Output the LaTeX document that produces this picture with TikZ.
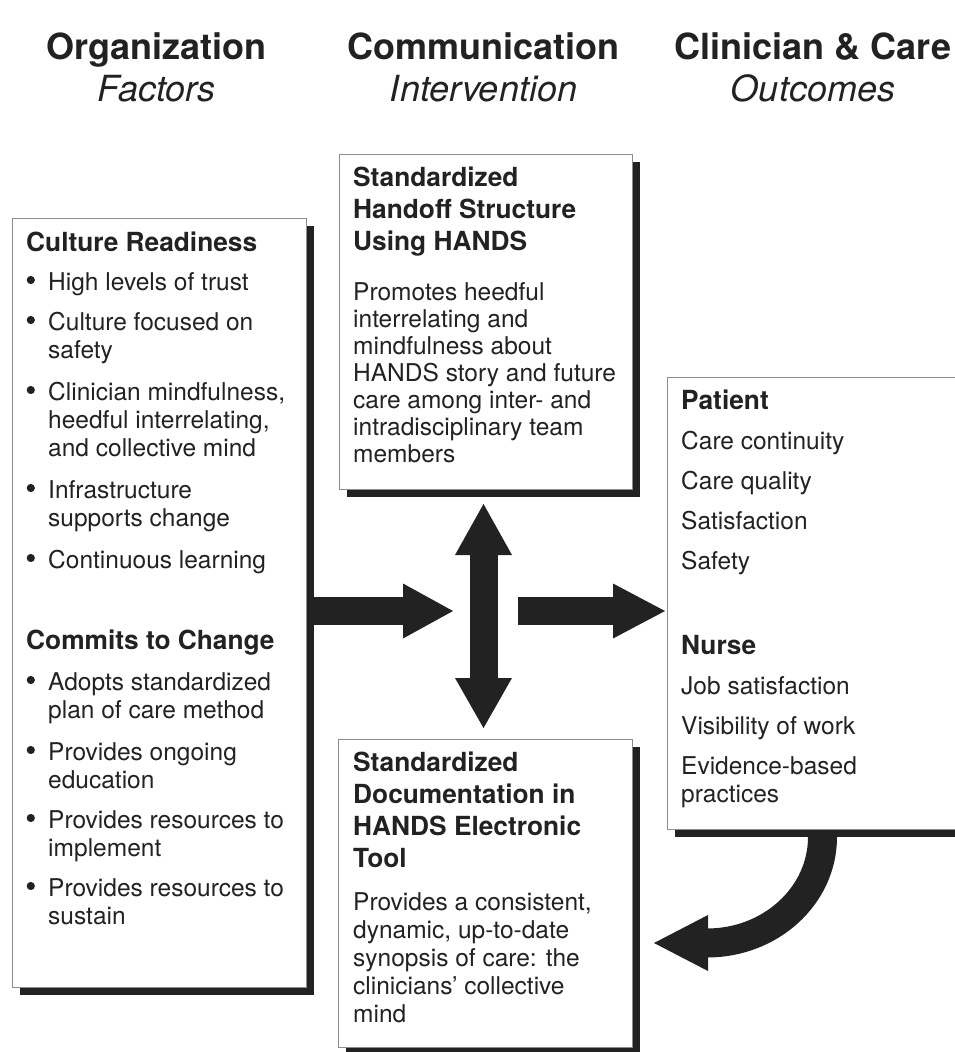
\documentclass[tikz,border=0pt]{standalone}
\usepackage{fontspec}
\setmainfont{TeX Gyre Heros}
\usetikzlibrary{calc,shadows}
\definecolor{ink}{HTML}{222222}
\definecolor{edgegray}{HTML}{8C8C8C}
\begin{document}
\begin{tikzpicture}[x=1pt,y=-1pt,
  box/.style={draw=edgegray, line width=1pt, fill=white, anchor=north west, inner sep=0pt,
    drop shadow={shadow xshift=7pt, shadow yshift=-7pt, fill=ink, opacity=1}},
  ln/.style={anchor=base west, inner sep=0pt, text=ink, font=\fontsize{24.5}{28}\selectfont},
  hd/.style={anchor=base west, inner sep=0pt, text=ink, font=\bfseries\fontsize{26.3}{32}\selectfont},
  ttl/.style={anchor=base, inner sep=0pt, text=ink, font=\bfseries\fontsize{36}{40}\selectfont},
  sub/.style={anchor=base, inner sep=0pt, text=ink, font=\itshape\fontsize{36}{40}\selectfont},
  shaft/.style={draw=ink, line width=28pt},
  head/.style={fill=ink}
]
\useasboundingbox (0,0) rectangle (955,1052);
\clip (0,0) rectangle (955,1052);
\fill[white] (0,0) rectangle (955,1052);

% titles
\node[ttl] (t1) at (156.6,59) {Organization};
\node[sub] (s1) at (156.6,101) {Factors};
\node[ttl] (t2) at (483.5,59) {Communication};
\node[sub] (s2) at (483.5,101) {Intervention};
\node[ttl] (t3) at (813,59) {Clinician \& Care};
\node[sub] (s3) at (813,101) {Outcomes};

% boxes
\node[box, minimum width=294pt, minimum height=769pt] (orgbox) at (12,218) {};
\node[box, minimum width=293pt, minimum height=335pt] (topbox) at (339,154) {};
\node[box, minimum width=294pt, minimum height=308pt] (docbox) at (338,739) {};
\node[box, minimum width=310pt, minimum height=452pt] (outbox) at (667,377) {};

% left box text
\node[hd] (cr) at (26,251) {Culture Readiness};
\node[ln] (cr1) at (48,290) {High levels of trust};
\node[ln] (cr2a) at (48,330) {Culture focused on};
\node[ln] (cr2b) at (48,358) {safety};
\node[ln] (cr3a) at (48,400) {Clinician mindfulness,};
\node[ln] (cr3b) at (48,428) {heedful interrelating,};
\node[ln] (cr3c) at (48,456) {and collective mind};
\node[ln] (cr4a) at (48,498) {Infrastructure};
\node[ln] (cr4b) at (48,526) {supports change};
\node[ln] (cr5) at (48,568) {Continuous learning};
\node[hd] (cc) at (26,649) {Commits to Change};
\node[ln] (cc1a) at (48,690) {Adopts standardized};
\node[ln] (cc1b) at (48,718) {plan of care method};
\node[ln] (cc2a) at (48,760) {Provides ongoing};
\node[ln] (cc2b) at (48,788) {education};
\node[ln] (cc3a) at (48,828) {Provides resources to};
\node[ln] (cc3b) at (48,856) {implement};
\node[ln] (cc4a) at (48,896) {Provides resources to};
\node[ln] (cc4b) at (48,924) {sustain};
\foreach \n in {cr1,cr2a,cr3a,cr4a,cr5,cc1a,cc2a,cc3a,cc4a}
  \fill[ink] ($(\n.base west)+(-17.2,-10)$) circle[radius=4.1pt];

% top box text
\node[hd] (h1) at (353,186) {Standardized};
\node[hd] (h2) at (353,218) {Handoff Structure};
\node[hd] (h3) at (353,250) {Using HANDS};
\node[ln] (p1) at (353,300) {Promotes heedful};
\node[ln] (p2) at (353,327) {interrelating and};
\node[ln] (p3) at (353,354) {mindfulness about};
\node[ln] (p4) at (353,381) {HANDS story and future};
\node[ln] (p5) at (353,408) {care among inter- and};
\node[ln] (p6) at (353,435) {intradisciplinary team};
\node[ln] (p7) at (353,462) {members};

% bottom box text
\node[hd] (d1) at (353,771) {Standardized};
\node[hd] (d2) at (353,803) {Documentation in};
\node[hd] (d3) at (353,835) {HANDS Electronic};
\node[hd] (d4) at (353,867) {Tool};
\node[ln] (q1) at (353,910) {Provides a consistent,};
\node[ln] (q2) at (353,938) {dynamic, up-to-date};
\node[ln] (q3) at (353,966) {synopsis of care: the};
\node[ln] (q4) at (353,994) {clinicians’ collective};
\node[ln] (q5) at (353,1022) {mind};

% right box text
\node[hd] (pt) at (681,409) {Patient};
\node[ln] (pt1) at (681,449) {Care continuity};
\node[ln] (pt2) at (681,489) {Care quality};
\node[ln] (pt3) at (681,529) {Satisfaction};
\node[ln] (pt4) at (681,569) {Safety};
\node[hd] (nu) at (681,654) {Nurse};
\node[ln] (nu1) at (681,694) {Job satisfaction};
\node[ln] (nu2) at (681,734) {Visibility of work};
\node[ln] (nu3) at (681,774) {Evidence-based};
\node[ln] (nu4) at (681,802) {practices};

% arrows
\coordinate (hub) at (483.5,611);
% left arrow
\coordinate (la0) at (orgbox.east |- hub);
\coordinate (la2) at ($(hub)+(-30.5,0)$);
\coordinate (la1) at ($(la2)+(-50,0)$);
\draw[shaft] (la0) -- ($(la1)+(1,0)$);
\fill[head] ($(la1)+(0,-27.5)$) -- (la2) -- ($(la1)+(0,27.5)$) -- cycle;
% right arrow
\coordinate (ra0) at ($(hub)+(34.5,0)$);
\coordinate (ra2) at ($(outbox.west |- hub)+(-2,0)$);
\coordinate (ra1) at ($(ra2)+(-52,0)$);
\draw[shaft] (ra0) -- ($(ra1)+(1,0)$);
\fill[head] ($(ra1)+(0,-27.5)$) -- (ra2) -- ($(ra1)+(0,27.5)$) -- cycle;
% vertical double arrow
\coordinate (vt) at ($(hub |- topbox.south)+(0,14)$);
\coordinate (vb) at ($(hub |- docbox.north)+(0,-11)$);
\coordinate (vt1) at ($(vt)+(0,51)$);
\coordinate (vb1) at ($(vb)+(0,-50)$);
\draw[shaft] ($(vt1)+(0,-1)$) -- ($(vb1)+(0,1)$);
\fill[head] ($(vt1)+(-28.5,0)$) -- (vt) -- ($(vt1)+(28.5,0)$) -- cycle;
\fill[head] ($(vb1)+(-28.5,0)$) -- (vb) -- ($(vb1)+(28.5,0)$) -- cycle;
% curved arrow back to documentation
\coordinate (ca0) at ($(outbox.south west)+(155.5,2)$);
\draw[ink, line width=29pt] (ca0) -- ++(0,5) arc[start angle=0, end angle=-90, x radius=115.5pt, y radius=106pt] coordinate (ca1);
\fill[head] ($(ca1)+(1,-28)$) -- ($(ca1)+(-53,0)$) -- ($(ca1)+(1,28)$) -- cycle;
\end{tikzpicture}
\end{document}
